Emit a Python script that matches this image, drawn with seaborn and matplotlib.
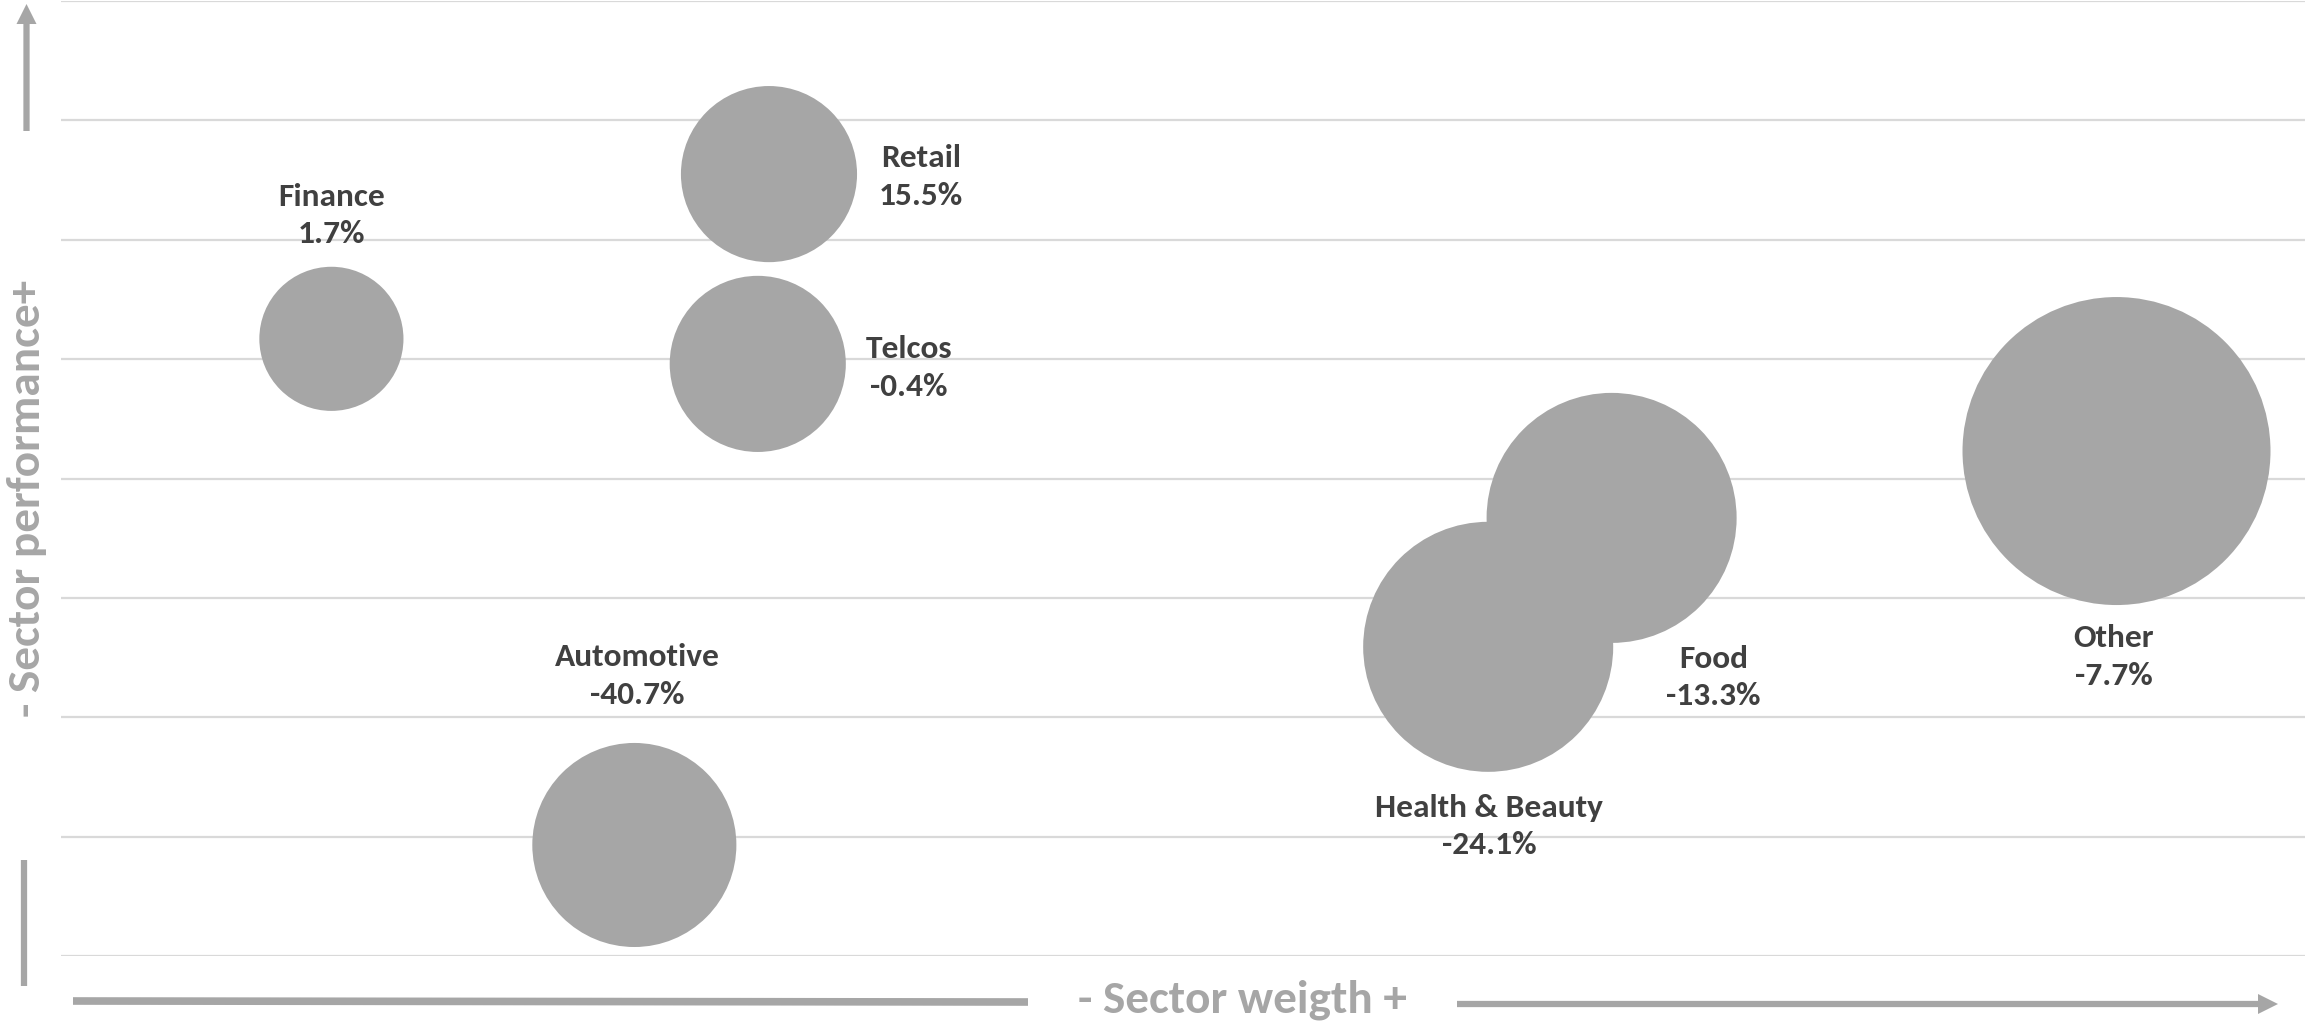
import matplotlib
matplotlib.use("Agg")
import matplotlib.pyplot as plt
from matplotlib.lines import Line2D
import seaborn as sns
import pandas as pd

# ---- data ----
sectors = ["Finance", "Retail", "Telcos", "Automotive", "Health & Beauty", "Food", "Other"]
weight = [2.41, 6.31, 6.21, 5.11, 12.72, 13.82, 18.32]          # x: sector weight
performance = [1.7, 15.5, -0.4, -40.7, -24.1, -13.3, -7.7]       # y: sector performance (%)
bubble = [21.9, 32.7, 32.7, 43.9, 65.9, 65.9, 100.0]             # bubble size (area)

df = pd.DataFrame({"sector": sectors, "weight": weight,
                   "performance": performance, "bubble": bubble})

# ---- style ----
sns.set_style("white")
plt.rcParams["font.family"] = ["Carlito", "DejaVu Sans"]

BUBBLE = "#a6a6a6"
GRID = "#d9d9d9"
LABEL = "#404040"
AXIS = "#a6a6a6"

W, H = 2305, 1023
fig = plt.figure(figsize=(W / 100, H / 100), dpi=100)
ax = fig.add_axes([61 / W, 67 / H, 1 - 61 / W, 955 / H])

max_s = (2 * 154 * 0.72) ** 2
sns.scatterplot(data=df, x="weight", y="performance", size="bubble",
                sizes=(0, max_s), size_norm=(0, 100), color=BUBBLE,
                linewidth=0, alpha=1, legend=False, ax=ax, zorder=3)

ax.set_xlim(0, 20)
ax.set_ylim(-50, 30)
ax.set_yticks(range(-50, 31, 10))
ax.set_xticks([])
ax.yaxis.grid(True, color=GRID, linewidth=1.6)
ax.xaxis.grid(False)
ax.tick_params(left=False, bottom=False, labelleft=False, labelbottom=False)
for s in ax.spines.values():
    s.set_visible(False)
ax.set_xlabel("")
ax.set_ylabel("")

# data labels (offsets in pixels from bubble centre)
offsets = {
    "Finance": (0, 123),
    "Retail": (152, -3),
    "Telcos": (151, -4),
    "Automotive": (3, 169),
    "Health & Beauty": (1, -180),
    "Food": (102, -160),
    "Other": (-3, -206),
}
for name, xv, yv in zip(sectors, weight, performance):
    ax.annotate(f"{name}\n{yv:.1f}%", xy=(xv, yv), xytext=offsets[name],
                textcoords="offset pixels", ha="center", va="center",
                fontsize=24, fontweight="bold", color=LABEL,
                linespacing=1.4, zorder=5)

# axis titles
fig.text(27 / W, 1 - 498 / H, "- Sector performance+", rotation=90,
         ha="center", va="center", fontsize=34, fontweight="bold", color=AXIS)
fig.text(1242 / W, 10 / H, "- Sector weigth +", ha="center", va="baseline",
         fontsize=34, fontweight="bold", color=AXIS)

# arrows (figure pixels)
simple = "simple,head_length=1.44,head_width=1.44,tail_width=0.45"
ax.annotate("", xy=(26.5, H - 4), xytext=(26.5, H - 131), xycoords="figure pixels",
            arrowprops=dict(arrowstyle=simple, fc=AXIS, ec="none", lw=0,
                            mutation_scale=10, shrinkA=0, shrinkB=0))
ax.annotate("", xy=(2278, H - 1004), xytext=(1457, H - 1004), xycoords="figure pixels",
            arrowprops=dict(arrowstyle=simple, fc=AXIS, ec="none", lw=0,
                            mutation_scale=10, shrinkA=0, shrinkB=0))
fig.add_artist(Line2D([24 / W, 24 / W], [(H - 986) / H, (H - 860) / H],
                      transform=fig.transFigure, color=AXIS, lw=4.5,
                      solid_capstyle="butt"))
fig.add_artist(Line2D([73 / W, 1028 / W], [(H - 1001) / H, (H - 1002) / H],
                      transform=fig.transFigure, color=AXIS, lw=5.5,
                      solid_capstyle="butt"))

fig.savefig("out.png", dpi=100)
